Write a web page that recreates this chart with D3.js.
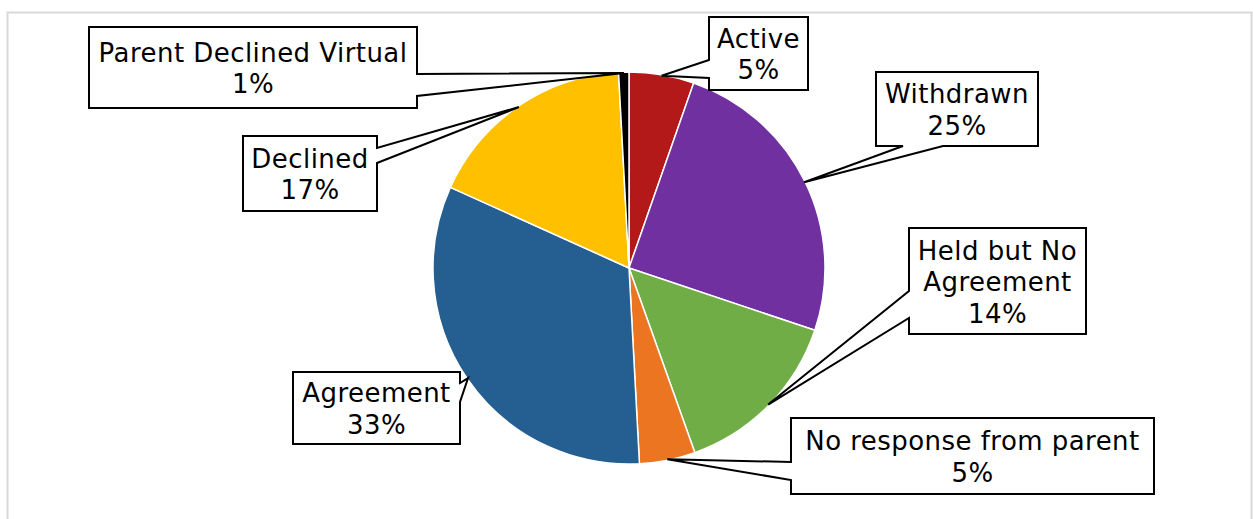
<!DOCTYPE html>
<html>
<head>
<meta charset="utf-8">
<script src="https://cdn.jsdelivr.net/npm/d3@7"></script>
<style>
  html, body { margin: 0; padding: 0; background: #fff; }
  svg { display: block; }
  text { font-family: "DejaVu Sans", Verdana, sans-serif; font-size: 26px; letter-spacing: 0.45px; fill: #000; }
</style>
</head>
<body>
<svg id="chart" width="1253" height="519"></svg>
<script>
// ---- Data ----
const categories = ["Active", "Withdrawn", "Held but No Agreement", "No response from parent", "Agreement", "Declined", "Parent Declined Virtual"];
const values = [5.35, 24.8, 14.4, 4.6, 32.6, 17.4, 0.85];
const colors = ["#B4191A", "#7030A0", "#70AD47", "#EB7520", "#255E91", "#FFC000", "#000000"];
const labelLines = [["Active"], ["Withdrawn"], ["Held but No", "Agreement"], ["No response from parent"], ["Agreement"], ["Declined"], ["Parent Declined Virtual"]];

// ---- Layout (callout boxes) ----
const boxes = [
  { x0: 709, y0: 17,  x1: 808,  y1: 90,  side: "left",   base: [60, 78] },
  { x0: 876, y0: 72,  x1: 1038, y1: 146, side: "bottom", base: [903, 943] },
  { x0: 909, y0: 228, x1: 1086, y1: 334, side: "left",   base: [291, 318] },
  { x0: 791, y0: 418, x1: 1154, y1: 494, side: "left",   base: [462, 480] },
  { x0: 293, y0: 372, x1: 460,  y1: 444, side: "right",  base: [383, 402] },
  { x0: 243, y0: 136, x1: 377,  y1: 211, side: "right",  base: [148, 163] },
  { x0: 89,  y0: 27,  x1: 417,  y1: 108, side: "right",  base: [74, 96] }
];

const cx = 629, cy = 268, R = 196;
const svg = d3.select("#chart");

// chart border
svg.append("rect")
  .attr("x", 7.5).attr("y", 12.5).attr("width", 1244).attr("height", 540)
  .attr("fill", "#fff").attr("stroke", "#D9D9D9").attr("stroke-width", 2);

const total = d3.sum(values);
const pie = d3.pie().sort(null).value(d => d)(values);
const arc = d3.arc().innerRadius(0).outerRadius(R);
const anchorArc = d3.arc().innerRadius(R - 1).outerRadius(R - 1);

const g = svg.append("g").attr("transform", `translate(${cx},${cy})`);
g.selectAll("path.slice")
  .data(pie)
  .join("path")
  .attr("class", "slice")
  .attr("d", arc)
  .attr("fill", (d, i) => colors[i])
  .attr("stroke", "#fff")
  .attr("stroke-width", 1.5)
  .attr("stroke-linejoin", "round");

function calloutPath(b, p) {
  const { x0, y0, x1, y1, side, base } = b;
  let pts;
  if (side === "left") {
    pts = [[x0, y0], [x1, y0], [x1, y1], [x0, y1], [x0, base[1]], p, [x0, base[0]]];
  } else if (side === "right") {
    pts = [[x0, y0], [x1, y0], [x1, base[0]], p, [x1, base[1]], [x1, y1], [x0, y1]];
  } else {
    pts = [[x0, y0], [x1, y0], [x1, y1], [base[1], y1], p, [base[0], y1], [x0, y1]];
  }
  return "M" + pts.map(q => q.join(",")).join("L") + "Z";
}

const lineH = 31.5;
pie.forEach((d, i) => {
  const c = anchorArc.centroid(d);
  const p = [cx + c[0], cy + c[1]];
  const b = boxes[i];
  svg.append("path")
    .attr("d", calloutPath(b, p))
    .attr("fill", "#fff")
    .attr("stroke", "#000")
    .attr("stroke-width", 2)
    .attr("stroke-linejoin", "miter");
  const lines = labelLines[i].concat([Math.round(values[i] / total * 100) + "%"]);
  const mx = (b.x0 + b.x1) / 2, my = (b.y0 + b.y1) / 2;
  const n = lines.length;
  const t = svg.append("text").attr("text-anchor", "middle");
  lines.forEach((ln, k) => {
    t.append("tspan")
      .attr("x", mx)
      .attr("y", my + (k - (n - 1) / 2) * lineH + 10)
      .text(ln);
  });
});
</script>
</body>
</html>
